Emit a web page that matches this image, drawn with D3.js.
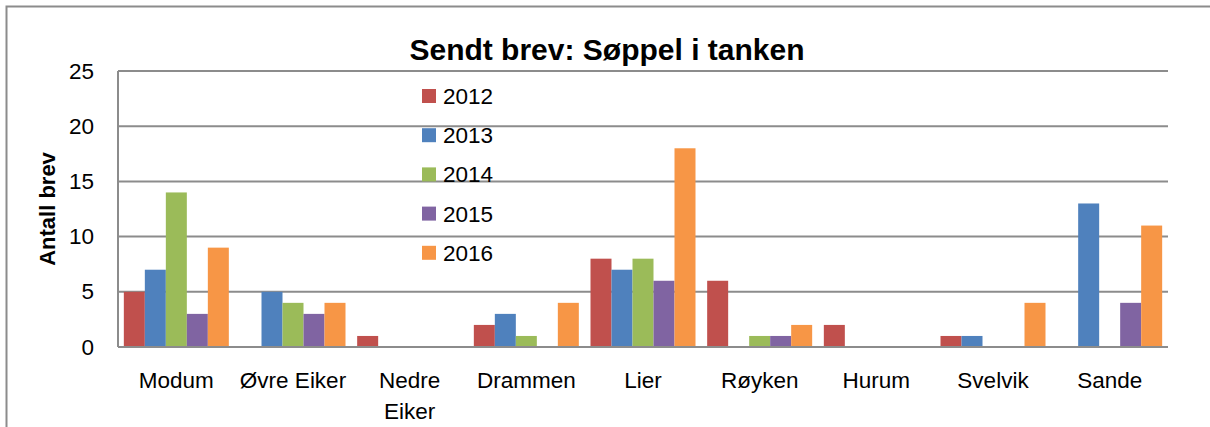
<!DOCTYPE html>
<html>
<head>
<meta charset="utf-8">
<script src="https://cdn.jsdelivr.net/npm/d3@7"></script>
<style>
  body { margin: 0; background: #fff; }
  text { font-family: "Liberation Sans", "DejaVu Sans", sans-serif; fill: #000; }
</style>
</head>
<body>
<div id="chart"></div>
<script>
// data
const places = ["Modum", "Øvre Eiker", "Nedre Eiker", "Drammen", "Lier", "Røyken", "Hurum", "Svelvik", "Sande"];
const years = ["2012", "2013", "2014", "2015", "2016"];
const v2012 = [5, 0, 1, 2, 8, 6, 2, 1, 0];
const v2013 = [7, 5, 0, 3, 7, 0, 0, 1, 13];
const v2014 = [14, 4, 0, 1, 8, 1, 0, 0, 0];
const v2015 = [3, 3, 0, 0, 6, 1, 0, 0, 4];
const v2016 = [9, 4, 0, 4, 18, 2, 0, 4, 11];
const yTicks = [0, 5, 10, 15, 20, 25];
const colors = ["#C0504D", "#4F81BD", "#9BBB59", "#8064A2", "#F79646"];

function init() {
    const w = 1210, h = 427;
    const left = 118, right = 1168, top = 71, bottom = 347;
    const series = [v2012, v2013, v2014, v2015, v2016];

    const svg = d3.select("#chart").append("svg")
        .attr("width", w)
        .attr("height", h);

    // outer frame
    svg.append("rect")
        .attr("x", 6.5).attr("y", 6.5)
        .attr("width", w - 4).attr("height", h)
        .attr("fill", "none")
        .attr("stroke", "#8c8c8c")
        .attr("stroke-width", 2);

    const x0 = d3.scaleBand().domain(places).range([left, right]);
    const y = d3.scaleLinear().domain([0, 25]).range([bottom, top]);

    // gridlines
    svg.selectAll("line.grid")
        .data(yTicks.slice(1))
        .enter()
        .append("line")
        .attr("class", "grid")
        .attr("x1", left).attr("x2", right)
        .attr("y1", d => y(d)).attr("y2", d => y(d))
        .attr("stroke", "#8c8c8c")
        .attr("stroke-width", 2);

    // bars
    const inner = d3.scaleBand().domain(years).range([0, 105]);
    for (let s = 0; s < series.length; s++) {
        svg.selectAll("rect.s" + s)
            .data(series[s])
            .enter()
            .append("rect")
            .attr("class", "s" + s)
            .attr("x", (d, i) => x0(places[i]) + (x0.bandwidth() - 105) / 2 + inner(years[s]))
            .attr("y", d => y(d))
            .attr("width", inner.bandwidth())
            .attr("height", d => bottom - y(d))
            .attr("fill", colors[s]);
    }

    // axis lines
    svg.append("line")
        .attr("x1", left).attr("x2", left)
        .attr("y1", top).attr("y2", bottom)
        .attr("stroke", "#8c8c8c").attr("stroke-width", 2);
    svg.append("line")
        .attr("x1", left).attr("x2", right)
        .attr("y1", bottom).attr("y2", bottom)
        .attr("stroke", "#8c8c8c").attr("stroke-width", 2);

    // y tick labels
    svg.selectAll("text.ytick")
        .data(yTicks)
        .enter()
        .append("text")
        .attr("class", "ytick")
        .attr("x", 94)
        .attr("y", d => y(d) + 7.5)
        .attr("text-anchor", "end")
        .attr("font-size", 22.5)
        .text(d => d);

    // x labels
    const xl = svg.selectAll("text.xlab")
        .data(places)
        .enter()
        .append("text")
        .attr("class", "xlab")
        .attr("x", d => x0(d) + x0.bandwidth() / 2)
        .attr("y", 388)
        .attr("text-anchor", "middle")
        .attr("font-size", 22.5);
    xl.each(function (d) {
        const t = d3.select(this);
        if (d === "Nedre Eiker") {
            t.append("tspan").attr("x", x0(d) + x0.bandwidth() / 2).text("Nedre");
            t.append("tspan").attr("x", x0(d) + x0.bandwidth() / 2).attr("dy", 31).text("Eiker");
        } else {
            t.text(d);
        }
    });

    // title
    svg.append("text")
        .attr("x", 607)
        .attr("y", 60)
        .attr("text-anchor", "middle")
        .attr("font-size", 30)
        .attr("font-weight", "bold")
        .text("Sendt brev: Søppel i tanken");

    // y axis title
    svg.append("text")
        .attr("transform", "translate(55,209) rotate(-90)")
        .attr("text-anchor", "middle")
        .attr("font-size", 22)
        .attr("font-weight", "bold")
        .text("Antall brev");

    // legend
    const lg = svg.selectAll("g.leg")
        .data(years)
        .enter()
        .append("g")
        .attr("class", "leg")
        .attr("transform", (d, i) => "translate(422," + (96 + i * 39.2) + ")");
    lg.append("rect")
        .attr("x", 0).attr("y", -7)
        .attr("width", 14).attr("height", 14)
        .attr("fill", (d, i) => colors[i]);
    lg.append("text")
        .attr("x", 21).attr("y", 8)
        .attr("font-size", 22.5)
        .text(d => d);
}

window.onload = init;
</script>
</body>
</html>
